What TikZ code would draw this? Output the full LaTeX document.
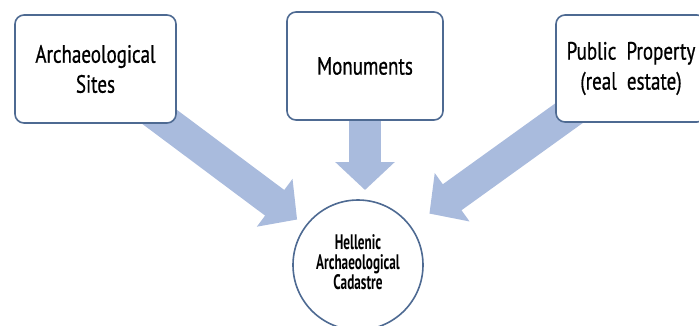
\documentclass[tikz,border=0pt]{standalone}
\usepackage{fontspec}
\setmainfont{PT Sans}
\newfontfamily\boxfont{PT Sans}[FakeStretch=0.76, FakeBold=0.7]
\newfontfamily\circfont{PT Sans Bold}[FakeStretch=0.63]
\usetikzlibrary{arrows.meta}
\definecolor{borderblue}{HTML}{4E6A92}
\definecolor{arrowblue}{HTML}{A9BBDD}
\pgfdeclarelayer{bg}
\pgfsetlayers{bg,main}
\tikzset{
  srcbox/.style={draw=borderblue, line width=1.6pt, rounded corners=9pt, fill=white,
    inner sep=0pt, outer sep=0pt, align=center,
    font=\boxfont\fontsize{25}{30}\selectfont},
  hubcircle/.style={draw=borderblue, line width=1.6pt, circle, fill=white,
    minimum size=130pt, inner sep=0pt, outer sep=0pt, align=center,
    font=\circfont\fontsize{21}{20}\selectfont},
  bigarrow/.style={draw=arrowblue, line width=32pt, line cap=butt,
    -{Triangle[length=28pt, width=58pt]}}
}
\begin{document}
\begin{tikzpicture}[x=1pt, y=-1pt]
\clip (0,0) rectangle (699,325);
\node[srcbox, minimum width=161pt, minimum height=108pt] (b1) at (95.5,69) {Archaeological\\Sites};
\node[srcbox, minimum width=156pt, minimum height=108pt] (b2) at (365,66) {Monuments};
\node[srcbox, minimum width=150pt, minimum height=107pt] (b3) at (631,68.5) {Public\ \ Property\\(real\ \ estate)};
\node[hubcircle] (hac) at (358,265) {\raisebox{-4pt}{\begin{tabular}{@{}c@{}}Hellenic\\[-1pt]Archaeological\\[-1pt]Cadastre\end{tabular}}};
\begin{pgfonlayer}{bg}
\draw[bigarrow, shorten <=-30pt, shorten >=11pt] (b1) -- (hac);
\draw[bigarrow, shorten <=-6pt, shorten >=10pt] (b2.south) -- (b2.south |- hac.north);
\draw[bigarrow, shorten <=-30pt, shorten >=23pt] (b3) -- (hac);
\end{pgfonlayer}
\end{tikzpicture}
\end{document}
